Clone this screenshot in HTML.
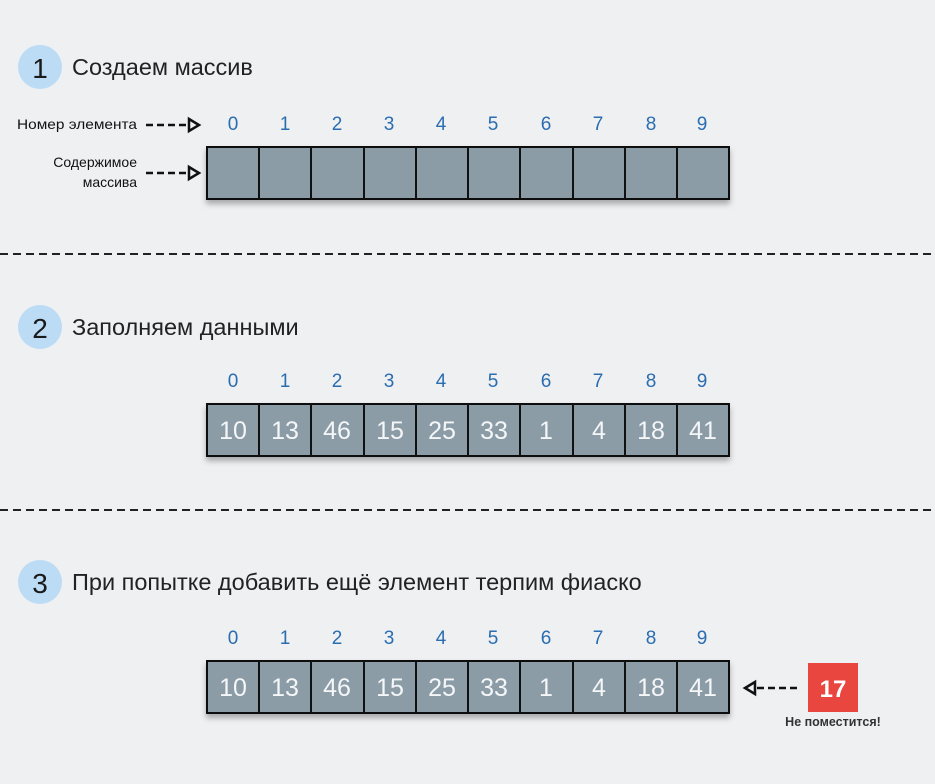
<!DOCTYPE html>
<html><head><meta charset="utf-8"><style>
html,body{margin:0;padding:0;background:#eff0f2;}
svg{display:block;font-family:"Liberation Sans","DejaVu Sans",sans-serif;}
</style></head><body>
<svg width="935" height="784" viewBox="0 0 935 784" xmlns="http://www.w3.org/2000/svg">
<defs><filter id="sh" x="-5%" y="-20%" width="110%" height="150%"><feDropShadow dx="0" dy="4" stdDeviation="3" flood-color="#000" flood-opacity="0.3"/></filter></defs>
<rect width="935" height="784" fill="#eff0f2"/>
<circle cx="40" cy="67" r="22" fill="#bcdcf6"/>
<text x="40" y="78" font-size="28" text-anchor="middle" fill="#1a1a1a">1</text>
<text x="72" y="75" font-size="23.5" fill="#222">Создаем массив</text>
<circle cx="40" cy="327" r="22" fill="#bcdcf6"/>
<text x="40" y="338" font-size="28" text-anchor="middle" fill="#1a1a1a">2</text>
<text x="72" y="335" font-size="23.5" fill="#222">Заполняем данными</text>
<circle cx="40" cy="582" r="22" fill="#bcdcf6"/>
<text x="40" y="593" font-size="28" text-anchor="middle" fill="#1a1a1a">3</text>
<text x="72" y="590" font-size="23.5" fill="#222">При попытке добавить ещё элемент терпим фиаско</text>
<line x1="0" y1="254" x2="935" y2="254" stroke="#222" stroke-width="2" stroke-dasharray="8,5"/>
<line x1="0" y1="510" x2="935" y2="510" stroke="#222" stroke-width="2" stroke-dasharray="8,5"/>
<text x="137" y="129" font-size="14" text-anchor="end" fill="#111" textLength="120" lengthAdjust="spacingAndGlyphs">Номер элемента</text>
<line x1="146" y1="125" x2="187" y2="125" stroke="#111" stroke-width="2.5" stroke-dasharray="7,4"/>
<polygon points="189,119 199,125 189,131" fill="none" stroke="#111" stroke-width="2.5"/>
<text x="137" y="167" font-size="14" text-anchor="end" fill="#111">Содержимое</text>
<text x="137" y="187" font-size="14" text-anchor="end" fill="#111">массива</text>
<line x1="146" y1="173" x2="187" y2="173" stroke="#111" stroke-width="2.5" stroke-dasharray="7,4"/>
<polygon points="189,167 199,173 189,179" fill="none" stroke="#111" stroke-width="2.5"/>
<g font-size="19" fill="#2a6db0" text-anchor="middle">
<text x="233" y="130">0</text><text x="285" y="130">1</text><text x="337" y="130">2</text><text x="389" y="130">3</text><text x="441" y="130">4</text><text x="493" y="130">5</text><text x="546" y="130">6</text><text x="598" y="130">7</text><text x="651" y="130">8</text><text x="702" y="130">9</text>
<text x="233" y="387">0</text><text x="285" y="387">1</text><text x="337" y="387">2</text><text x="389" y="387">3</text><text x="441" y="387">4</text><text x="493" y="387">5</text><text x="546" y="387">6</text><text x="598" y="387">7</text><text x="651" y="387">8</text><text x="702" y="387">9</text>
<text x="233" y="644">0</text><text x="285" y="644">1</text><text x="337" y="644">2</text><text x="389" y="644">3</text><text x="441" y="644">4</text><text x="493" y="644">5</text><text x="546" y="644">6</text><text x="598" y="644">7</text><text x="651" y="644">8</text><text x="702" y="644">9</text>
</g>
<g stroke="#111" stroke-width="2" fill="#8b9ca7">
<rect x="207" y="147" width="522" height="52" filter="url(#sh)"/>
<rect x="207" y="404" width="522" height="52" filter="url(#sh)"/>
<rect x="207" y="661" width="522" height="52" filter="url(#sh)"/>
</g>
<g stroke="#111" stroke-width="2">
<path d="M259,147v52M311,147v52M364,147v52M416,147v52M468,147v52M520,147v52M573,147v52M625,147v52M677,147v52"/>
<path d="M259,404v52M311,404v52M364,404v52M416,404v52M468,404v52M520,404v52M573,404v52M625,404v52M677,404v52"/>
<path d="M259,661v52M311,661v52M364,661v52M416,661v52M468,661v52M520,661v52M573,661v52M625,661v52M677,661v52"/>
</g>
<g font-size="25" fill="#f4f6f8" text-anchor="middle">
<text x="233" y="439">10</text><text x="285" y="439">13</text><text x="337" y="439">46</text><text x="390" y="439">15</text><text x="442" y="439">25</text><text x="494" y="439">33</text><text x="546" y="439">1</text><text x="599" y="439">4</text><text x="651" y="439">18</text><text x="703" y="439">41</text>
<text x="233" y="696">10</text><text x="285" y="696">13</text><text x="337" y="696">46</text><text x="390" y="696">15</text><text x="442" y="696">25</text><text x="494" y="696">33</text><text x="546" y="696">1</text><text x="599" y="696">4</text><text x="651" y="696">18</text><text x="703" y="696">41</text>
</g>
<polygon points="755,682 745,688 755,694" fill="none" stroke="#111" stroke-width="2.5"/>
<line x1="757" y1="688" x2="797" y2="688" stroke="#111" stroke-width="2.5" stroke-dasharray="7,4"/>
<rect x="808" y="663" width="50" height="49" fill="#e8463f"/>
<text x="833" y="697" font-size="24" font-weight="bold" fill="#fff" text-anchor="middle">17</text>
<text x="833" y="726" font-size="12.5" font-weight="bold" fill="#333" text-anchor="middle">Не поместится!</text>
</svg>
</body></html>
